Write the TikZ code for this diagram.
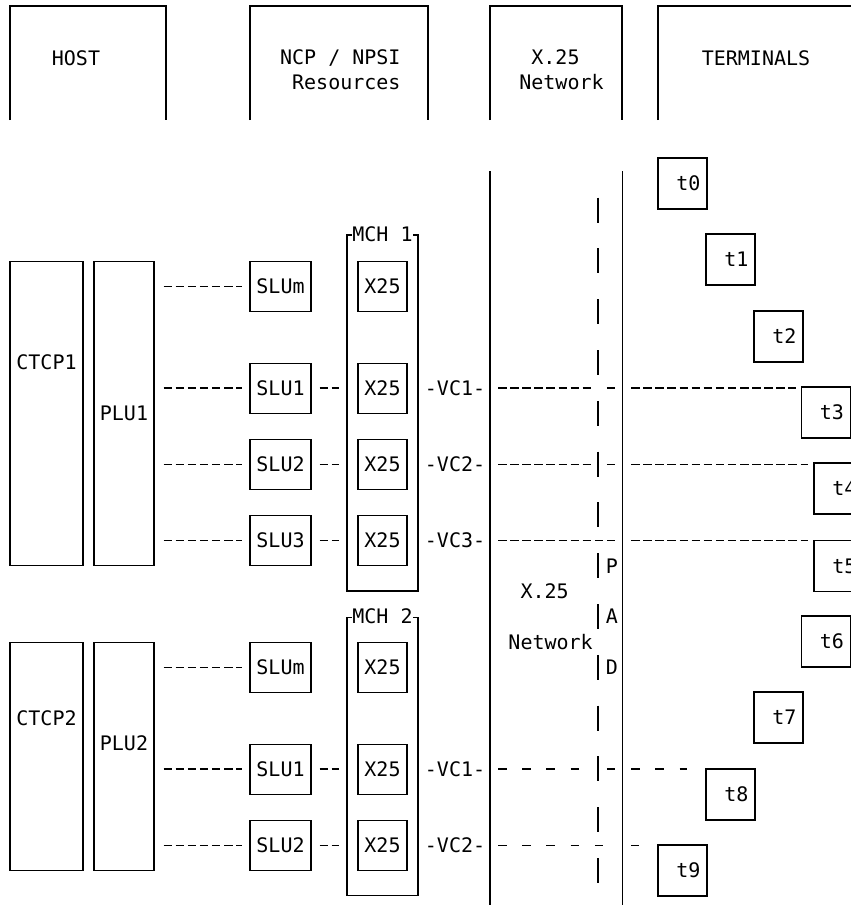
\documentclass[tikz,border=0pt]{standalone}
\usepackage{fontspec}
\setmonofont{DejaVu Sans Mono}

\tikzset{
  every node/.style={font=\ttfamily\fontsize{20}{25.4}\selectfont, inner sep=0pt},
  box/.style={draw, line width=1.1pt},
  slubox/.style={box, minimum width=61pt, minimum height=50pt},
  xbox/.style={box, minimum width=49pt, minimum height=50pt},
  term/.style={box, text width=36pt, align=right, inner xsep=6.5pt, minimum height=51pt},
  wall/.style={line width=1.1pt},
  link/.style={line width=1.4pt, dash pattern=on 8.5pt off 3.6pt},
  sparse/.style={line width=1.4pt, dash pattern=on 8.5pt off 15.7pt}
}

\begin{document}
\begin{tikzpicture}[x=1pt, y=-1pt]
\useasboundingbox (0,0) rectangle (851,905);

% column heads
\node (host) at (76,58) {HOST};
\node[align=right] (ncp) at (340.3,70) {NCP / NPSI\\Resources};
\node[align=left] (x25hdr) at (561.5,70) {\hphantom{N}X.25\\Network};
\node (termhdr) at (756,58) {TERMINALS};
\draw[wall] (10,120) |- (166,6) -- (166,120);
\draw[wall] (250,120) |- (428,6) -- (428,120);
\draw[wall] (490,120) |- (622,6) -- (622,120);
\draw[wall] (658,120) |- (870,6);

% host 1
\node[box, minimum width=73pt, minimum height=304.8pt] (ctcp1) at (46.5,413.5) {};
\node (ctcp1t) at (46.5,362.7) {CTCP1};
\node[box, minimum width=60pt, minimum height=304.8pt] (plu1) at (124,413.5) {PLU1};
\node[slubox] (slum1) at (280.5,286.5) {SLUm};
\node[slubox] (slu1a) at (280.5,388.1) {SLU1};
\node[slubox] (slu2a) at (280.5,464.3) {SLU2};
\node[slubox] (slu3a) at (280.5,540.5) {SLU3};
\node[box, minimum width=71pt, minimum height=356pt] (mch1) at (382.5,413) {};
\node[fill=white, inner xsep=0.5pt] (mch1t) at (mch1.north) {MCH 1};
\node[xbox] (x25a) at (382.5,286.5) {X25};
\node[xbox] (x25b) at (382.5,388.1) {X25};
\node[xbox] (x25c) at (382.5,464.3) {X25};
\node[xbox] (x25d) at (382.5,540.5) {X25};
\node[xshift=36.5pt] (vc1a) at (mch1.east |- x25b) {-VC1-};
\node[xshift=36.5pt] (vc2a) at (mch1.east |- x25c) {-VC2-};
\node[xshift=36.5pt] (vc3a) at (mch1.east |- x25d) {-VC3-};

% host 2
\node[box, minimum width=73pt, minimum height=228.6pt] (ctcp2) at (46.5,756.4) {};
\node (ctcp2t) at (46.5,718.3) {CTCP2};
\node[box, minimum width=60pt, minimum height=228.6pt] (plu2) at (124,756.4) {};
\node (plu2t) at (124,743.7) {PLU2};
\node[slubox] (slum2) at (280.5,667.5) {SLUm};
\node[slubox] (slu1b) at (280.5,769.1) {SLU1};
\node[slubox] (slu2b) at (280.5,845.3) {SLU2};
\node[box, minimum width=71pt, minimum height=278.5pt] (mch2) at (382.5,756.3) {};
\node[fill=white, inner xsep=0.5pt] (mch2t) at (mch2.north) {MCH 2};
\node[xbox] (x25e) at (382.5,667.5) {X25};
\node[xbox] (x25f) at (382.5,769.1) {X25};
\node[xbox] (x25g) at (382.5,845.3) {X25};
\node[xshift=36.5pt] (vc1b) at (mch2.east |- x25f) {-VC1-};
\node[xshift=36.5pt] (vc2b) at (mch2.east |- x25g) {-VC2-};

% network and pad
\coordinate (netL) at (490,0);
\coordinate (pad) at (598,0);
\coordinate (netR) at (622.5,0);
\draw[wall] (490,171) -- (490,905);
\draw[wall] (622.5,171) -- (622.5,905);
\draw[line width=1.1pt, dash pattern=on 25pt off 25.8pt] (598,197.6) -- (598,884);
\node (padp) at (612,565.9) {P};
\node (pada) at (612,616.7) {A};
\node (padd) at (612,667.5) {D};
\node (netx) at (544.6,591.3) {X.25};
\node (netw) at (550.6,642.1) {Network};

% terminals
\foreach \n/\x/\y in {0/682.5/183.5, 1/730.5/259.5, 2/778.5/336.5, 3/826/412.5, 4/838.5/488.5,
                      5/838.5/566, 6/826/641.5, 7/778.5/717.5, 8/730.5/794.5, 9/682.5/870.5}
  \node[term] (t\n) at (\x,\y) {t\n};

% host to NCP
\foreach \s in {slum1, slu1a, slu2a, slu3a}
  \draw[link, shorten <=9pt, shorten >=7pt] (plu1.east |- \s) -- (\s.west);
\foreach \s in {slum2, slu1b, slu2b}
  \draw[link, shorten <=9pt, shorten >=7pt] (plu2.east |- \s) -- (\s.west);
\foreach \s/\x in {slu1a/x25b, slu2a/x25c, slu3a/x25d, slu1b/x25f, slu2b/x25g}
  \draw[link, shorten <=8pt, shorten >=18.4pt] (\s) -- (\x);

% virtual circuits
\draw[link, shorten <=8pt, shorten >=6.8pt] (netL |- vc1a) -- (pad |- vc1a);
\draw[link, shorten <=8.9pt, shorten >=7.1pt] (pad |- vc1a) -- (netR |- vc1a);
\draw[link, shorten <=8.6pt, shorten >=5pt] (netR |- vc1a) -- (t3.west |- vc1a);
\draw[link, shorten <=8pt, shorten >=6.8pt] (netL |- vc2a) -- (pad |- vc2a);
\draw[link, shorten <=8.9pt, shorten >=7.1pt] (pad |- vc2a) -- (netR |- vc2a);
\draw[link, shorten <=8.6pt, shorten >=5pt] (netR |- vc2a) -- (t4.west |- vc2a);
\draw[link, shorten <=8pt, shorten >=7.1pt] (netL |- vc3a) -- (netR |- vc3a);
\draw[link, shorten <=8.6pt, shorten >=5pt] (netR |- vc3a) -- (t5.west |- vc3a);
\draw[sparse, shorten <=8pt, shorten >=18.9pt] (netL |- vc1b) -- (pad |- vc1b);
\draw[link, shorten <=8.9pt, shorten >=7.1pt] (pad |- vc1b) -- (netR |- vc1b);
\draw[sparse, shorten <=8.6pt, shorten >=18pt] (netR |- vc1b) -- (t8.west |- vc1b);
\draw[sparse, shorten <=8pt, shorten >=19.2pt] (netL |- vc2b) -- (netR |- vc2b);
\draw[link, shorten <=8.6pt, shorten >=18.4pt] (netR |- vc2b) -- (t9.west |- vc2b);
\end{tikzpicture}
\end{document}
